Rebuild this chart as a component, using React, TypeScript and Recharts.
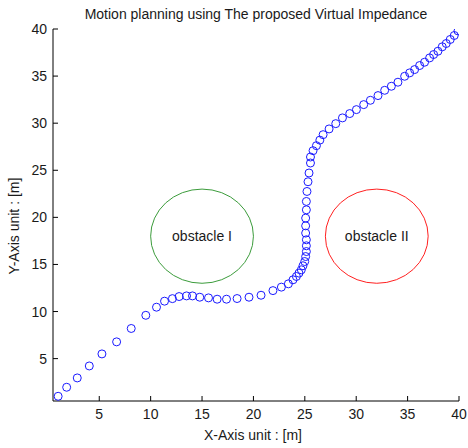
import React from 'react';
import { ComposedChart, Scatter, XAxis, YAxis, ReferenceArea, Label } from 'recharts';

const pathX = [1.0, 1.83, 2.86, 4.03, 5.26, 6.69, 8.11, 9.53, 10.57, 11.35, 12.12, 12.77, 13.49, 14.07, 14.78, 15.63, 16.47, 17.38, 18.41, 19.57, 20.74, 21.9, 22.72, 23.4, 23.85, 24.18, 24.43, 24.66, 24.82, 24.99, 25.08, 25.15, 25.15, 25.15, 25.08, 25.08, 25.08, 25.15, 25.15, 25.21, 25.31, 25.41, 25.55, 25.55, 25.8, 26.13, 26.46, 26.78, 27.36, 28.01, 28.66, 29.37, 30.02, 30.73, 31.38, 32.12, 32.77, 33.42, 34.06, 34.71, 35.2, 35.68, 36.17, 36.65, 37.14, 37.53, 37.95, 38.37, 38.76, 39.15, 39.54, 39.9];
const pathY = [1.0, 1.96, 2.95, 4.22, 5.5, 6.78, 8.2, 9.6, 10.46, 11.1, 11.37, 11.59, 11.66, 11.66, 11.52, 11.45, 11.31, 11.31, 11.38, 11.52, 11.73, 12.22, 12.59, 12.94, 13.37, 13.72, 14.08, 14.43, 14.86, 15.31, 15.84, 16.37, 16.98, 17.62, 18.33, 19.1, 19.92, 20.8, 21.69, 22.75, 23.78, 24.71, 25.77, 26.41, 27.08, 27.61, 28.2, 28.78, 29.39, 29.95, 30.56, 31.02, 31.44, 31.97, 32.43, 32.93, 33.49, 33.92, 34.35, 34.98, 35.34, 35.69, 36.12, 36.47, 36.93, 37.29, 37.64, 38.11, 38.46, 38.89, 39.31, 39.8];

const xTicks = [5, 10, 15, 20, 25, 30, 35, 40];
const yTicks = [5, 10, 15, 20, 25, 30, 35, 40];

const obstacleNames = ['obstacle I', 'obstacle II'];
const obstacleCX = [15, 32];
const obstacleCY = [18, 18];
const obstacleR = [5, 5];
const obstacleColors = ['#3c9c3c', '#ff2020'];

const title = 'Motion planning using The proposed Virtual Impedance';
const xLabel = 'X-Axis unit : [m]';
const yLabel = 'Y-Axis unit : [m]';

const FONT = '"Liberation Sans", Arial, sans-serif';
const FS = 14;
const TXT = '#1a1a1a';

const data = pathX.map((x, i) => ({ x, y: pathY[i] }));

const BottomTick = (p: any) => (
  <g>
    <line x1={p.x} x2={p.x} y1={p.y} y2={p.y - 5} stroke="#000" />
    <text x={p.x} y={p.y + 18} textAnchor="middle" fontSize={FS} fontFamily={FONT} fill={TXT}>{p.payload.value}</text>
  </g>
);
const TopTick = (p: any) => (
  <line x1={p.x} x2={p.x} y1={p.y} y2={p.y + 5} stroke="#000" />
);
const LeftTick = (p: any) => (
  <g>
    <line x1={p.x} x2={p.x + 5} y1={p.y} y2={p.y} stroke="#000" />
    <text x={p.x - 6} y={p.y + 5} textAnchor="end" fontSize={FS} fontFamily={FONT} fill={TXT}>{p.payload.value}</text>
  </g>
);
const RightTick = (p: any) => (
  <line x1={p.x} x2={p.x - 5} y1={p.y} y2={p.y} stroke="#000" />
);

const YLab = (props: any) => {
  const vb = props.viewBox || { x: 0, y: 29, width: 53, height: 372 };
  const cx = vb.x + 14;
  const cy = vb.y + vb.height / 2 + 11;
  return (
    <text x={cx} y={cy} transform={`rotate(-90, ${cx}, ${cy})`} textAnchor="middle" dominantBaseline="central" fontSize={FS} fontFamily={FONT} fill={TXT}>{yLabel}</text>
  );
};

const XLab = (props: any) => {
  const vb = props.viewBox || { x: 53, y: 401, width: 406, height: 47 };
  const cx = vb.x + vb.width / 2 - 3;
  const cy = vb.y + 34;
  return (
    <text x={cx} y={cy} textAnchor="middle" dominantBaseline="central" fontSize={FS} fontFamily={FONT} fill={TXT}>{xLabel}</text>
  );
};

const Marker = (p: any) => (
  <circle cx={p.cx} cy={p.cy} r={4} fill="none" stroke="#1a1aff" strokeWidth={1} />
);

const makeEllipse = (color: string) => (p: any) => (
  <ellipse cx={p.x + p.width / 2} cy={p.y + p.height / 2} rx={Math.abs(p.width) / 2} ry={Math.abs(p.height) / 2} fill="none" stroke={color} strokeWidth={1} />
);

export default function App() {
  return (
    <div style={{ position: 'absolute', left: 0, top: 0, width: 468, height: 448, background: '#fff' }}>
      <div style={{ position: 'absolute', left: 53, top: 5, width: 406, textAlign: 'center', fontFamily: FONT, fontSize: FS, lineHeight: '18px', color: TXT, whiteSpace: 'nowrap' }}>{title}</div>
      <ComposedChart width={468} height={448} data={data} margin={{ top: 29, right: 9, left: 0, bottom: 0 }}>
        <XAxis xAxisId="b" dataKey="x" type="number" domain={[0.5, 40]} ticks={xTicks} orientation="bottom" height={47} tickSize={0} tickMargin={0} tick={BottomTick} axisLine={{ stroke: '#000' }} tickLine={false} allowDataOverflow>
          <Label content={XLab} />
        </XAxis>
        <XAxis xAxisId="t" dataKey="x" type="number" domain={[0.5, 40]} ticks={xTicks} orientation="top" height={0} tickSize={0} tickMargin={0} tick={TopTick} axisLine={{ stroke: '#000' }} tickLine={false} allowDataOverflow />
        <YAxis yAxisId="l" dataKey="y" type="number" domain={[0.5, 40]} ticks={yTicks} orientation="left" width={53} tickSize={0} tickMargin={0} tick={LeftTick} axisLine={{ stroke: '#000' }} tickLine={false} allowDataOverflow>
          <Label content={YLab} />
        </YAxis>
        <YAxis yAxisId="r" dataKey="y" type="number" domain={[0.5, 40]} ticks={yTicks} orientation="right" width={0} tickSize={0} tickMargin={0} tick={RightTick} axisLine={{ stroke: '#000' }} tickLine={false} allowDataOverflow />
        {obstacleNames.map((name, i) => (
          <ReferenceArea
            key={name}
            xAxisId="b"
            yAxisId="l"
            x1={obstacleCX[i] - obstacleR[i]}
            x2={obstacleCX[i] + obstacleR[i]}
            y1={obstacleCY[i] - obstacleR[i]}
            y2={obstacleCY[i] + obstacleR[i]}
            shape={makeEllipse(obstacleColors[i])}
            label={{ value: name, position: 'center', fill: TXT, fontSize: FS, fontFamily: FONT }}
            ifOverflow="visible"
          />
        ))}
        <Scatter xAxisId="b" yAxisId="l" dataKey="y" data={data} shape={Marker} isAnimationActive={false} />
      </ComposedChart>
    </div>
  );
}
